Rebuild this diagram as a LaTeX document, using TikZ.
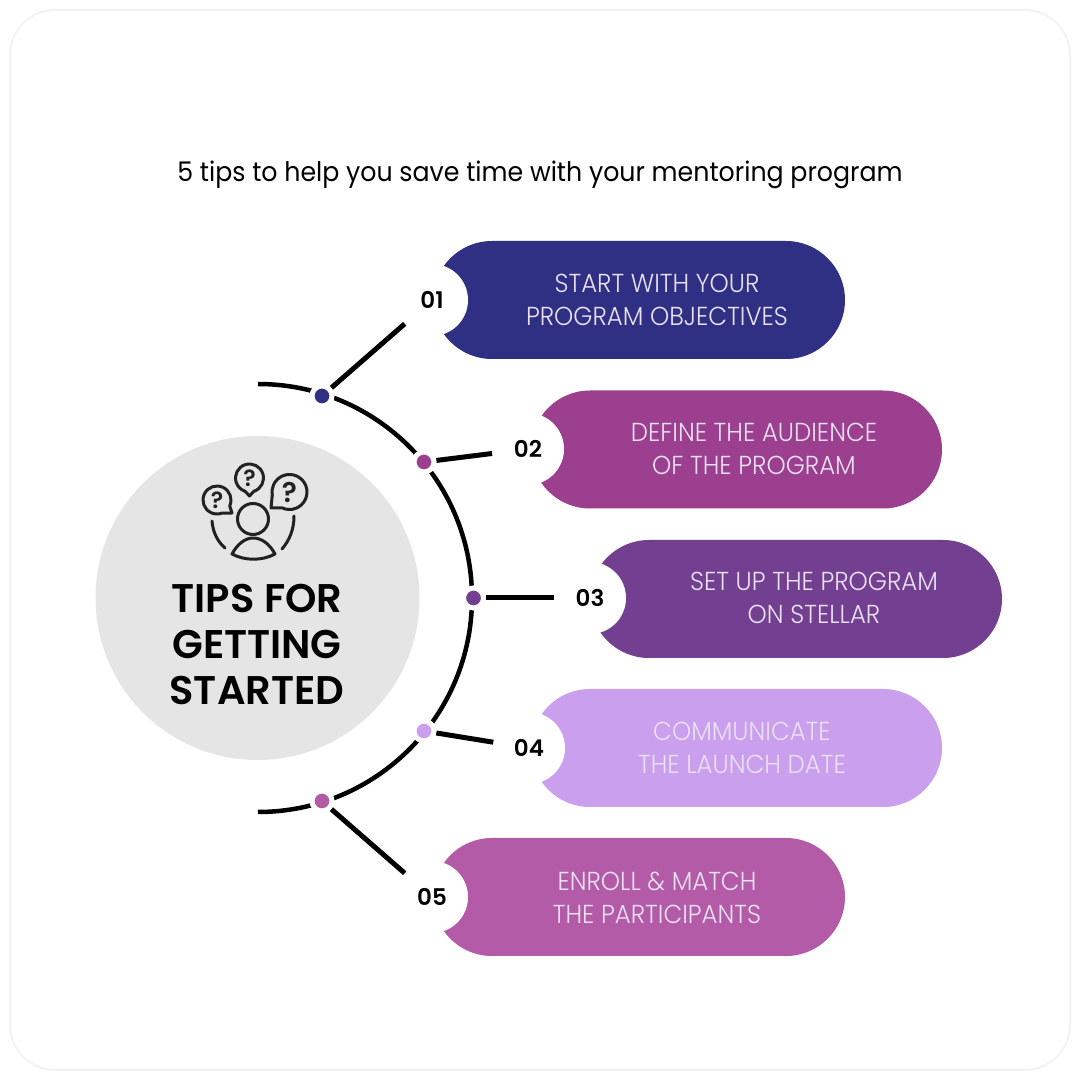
\documentclass[tikz,border=0pt]{standalone}
\usepackage{fontspec}
\setmainfont{Poppins}
\newfontfamily\titlefont[FakeStretch=0.935]{Poppins}
\newfontfamily\pillfont[FakeStretch=0.94]{Poppins Light}
\newfontfamily\semifont{Poppins SemiBold}
\definecolor{cA}{HTML}{2F3084}
\definecolor{cB}{HTML}{9B3F8E}
\definecolor{cC}{HTML}{733F90}
\definecolor{cD}{HTML}{CA9FEE}
\definecolor{cE}{HTML}{B45BA8}
\definecolor{hubgrey}{HTML}{E5E5E5}
\definecolor{pilltext}{HTML}{E9E0F2}
\definecolor{icon}{HTML}{222222}
\tikzset{
 pill/.style={rectangle,rounded corners=59pt,minimum height=118pt,inner sep=0pt,fill=#1},
 numnode/.style={circle,fill=white,minimum size=72pt,inner sep=0pt,font=\fontsize{23}{23}\selectfont\semifont},
 dotnode/.style={circle,fill=#1,draw=white,line width=5pt,minimum size=20pt,inner sep=0pt},
 pilllabel/.style={align=center,text=pilltext,font=\fontsize{26}{33}\selectfont\pillfont},
 spoke/.style={line width=5pt,black},
 iconline/.style={line width=3pt,icon,line cap=round,line join=round},
 qmark/.style={inner sep=0pt,text=icon,font=\fontsize{#1}{#1}\selectfont\semifont},
}
\begin{document}
\begin{tikzpicture}[x=1pt,y=1pt]
\useasboundingbox (0,0) rectangle (1080,1080);
\fill[white] (0,0) rectangle (1080,1080);
\draw[line width=1.5pt,draw=black!6,rounded corners=45pt] (10,10) rectangle (1070,1070);
\node[text=black,font=\fontsize{27}{27}\selectfont\titlefont] (title) at (540,905) {5 tips to help you save time with your mentoring program};
% pills
\node[pill=cA,minimum width=412pt] (p1) at (639,780) {};
\node[pill=cB,minimum width=411pt] (p2) at (736.5,630.5) {};
\node[pill=cC,minimum width=412pt] (p3) at (796,481) {};
\node[pill=cD,minimum width=411pt] (p4) at (736.5,332) {};
\node[pill=cE,minimum width=412pt] (p5) at (639,183) {};
\node[pilllabel] (t1) at (657,780) {START WITH YOUR\\PROGRAM OBJECTIVES};
\node[pilllabel] (t2) at (754,631) {DEFINE THE AUDIENCE\\OF THE PROGRAM};
\node[pilllabel] (t3) at (814,482) {SET UP THE PROGRAM\\ON STELLAR};
\node[pilllabel] (t4) at (742,332) {COMMUNICATE\\THE LAUNCH DATE};
\node[pilllabel] (t5) at (657,182) {ENROLL \& MATCH\\THE PARTICIPANTS};
% number nodes
\node[numnode] (n1) at (432,780) {01};
\node[numnode] (n2) at (528,631) {02};
\node[numnode] (n3) at (590,482) {03};
\node[numnode] (n4) at (529,332) {04};
\node[numnode] (n5) at (432,183) {05};
% grey circle
\node[circle,fill=hubgrey,minimum size=324pt,inner sep=0pt] (hub) at (257.5,482) {};
\node[align=center,text=black,font=\fontsize{40}{46}\selectfont\semifont] (hubtext) at (257,436) {TIPS FOR\\GETTING\\STARTED};
% arc
\draw[line width=4.5pt,black] (258,696) arc[start angle=90,end angle=-90,radius=214];
% dots
\node[dotnode=cA] (d1) at (322,684) {};
\node[dotnode=cB] (d2) at (424,618) {};
\node[dotnode=cC] (d3) at (473.5,482) {};
\node[dotnode=cD] (d4) at (424,349) {};
\node[dotnode=cE] (d5) at (322,279) {};
\draw[spoke] (d1) -- (n1);
\draw[spoke] (d2) -- (n2);
\draw[spoke] (d3) -- (n3);
\draw[spoke] (d4) -- (n4);
\draw[spoke] (d5) -- (n5);
% icon
\draw[iconline] (253,561) circle[radius=15.5];
\draw[iconline] (232,526) .. controls (238,537) and (246,542) .. (253,542) .. controls (261,542) and (269,537) .. (275,526) .. controls (262,519) and (245,519) .. cycle;
\draw[iconline] (212,559) .. controls (213,547) and (218,538) .. (225,532);
\draw[iconline] (294,564) .. controls (294,550) and (289,539) .. (282,531);
\draw[iconline] (249.5,602)+(-72:14) arc[start angle=-72,end angle=252,radius=14] -- (249.5,584) -- cycle;
\draw[iconline] (217,580)+(-25:14) arc[start angle=-25,end angle=290,radius=14] -- (232,567) -- cycle;
\draw[iconline] (289.5,588)+(-115:17.5) arc[start angle=-115,end angle=190,radius=17.5] -- (271,572) -- cycle;
\node[qmark=23] (q1) at (249.5,602) {?};
\node[qmark=23] (q2) at (217,580) {?};
\node[qmark=28] (q3) at (289.5,588) {?};
\end{tikzpicture}
\end{document}
